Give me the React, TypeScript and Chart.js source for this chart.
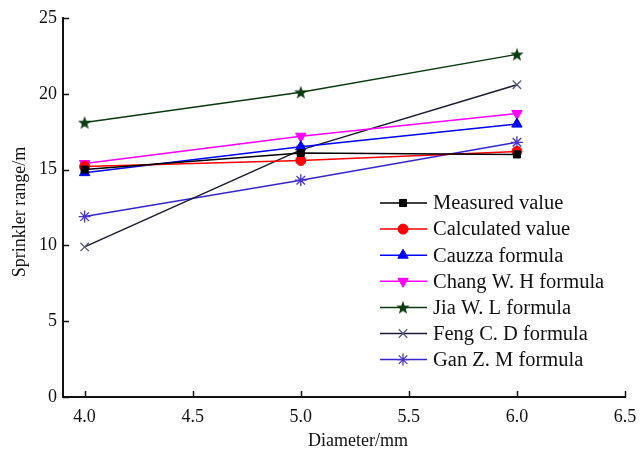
import React, { useEffect, useRef } from "react";
import { Chart, registerables } from "chart.js";
import { drawPoint } from "chart.js/helpers";

Chart.register(...registerables);

const diameters = [4.0, 5.0, 6.0];
const measured = [15.0, 16.1, 16.0];
const calculated = [15.2, 15.6, 16.2];
const cauzza = [14.8, 16.5, 18.0];
const changWH = [15.4, 17.2, 18.7];
const jiaWL = [18.1, 20.1, 22.6];
const fengCD = [9.9, 16.3, 20.6];
const ganZM = [11.9, 14.3, 16.8];

const seriesNames = [
  "Measured value",
  "Calculated value",
  "Cauzza formula",
  "Chang W. H formula",
  "Jia W. L formula",
  "Feng C. D formula",
  "Gan Z. M formula",
];
const xTickValues = [4.0, 4.5, 5.0, 5.5, 6.0, 6.5];
const yTickValues = [0, 5, 10, 15, 20, 25];
const xTitle = "Diameter/mm";
const yTitle = "Sprinkler range/m";

const SERIF = '"Liberation Serif", "Times New Roman", serif';

function makeStar(color: string): HTMLCanvasElement {
  const c = document.createElement("canvas");
  c.width = 14;
  c.height = 14;
  const g = c.getContext("2d")!;
  g.fillStyle = color;
  g.beginPath();
  for (let i = 0; i < 10; i++) {
    const r = i % 2 === 0 ? 7 : 2.9;
    const a = -Math.PI / 2 + (i * Math.PI) / 5;
    const px = 7 + r * Math.cos(a);
    const py = 7.5 + r * Math.sin(a);
    if (i === 0) g.moveTo(px, py);
    else g.lineTo(px, py);
  }
  g.closePath();
  g.fill();
  return c;
}

export default function App() {
  const ref = useRef<HTMLCanvasElement | null>(null);

  useEffect(() => {
    if (!ref.current) return;
    const star = makeStar("#0c3a10");
    const pts = (arr: number[]) => arr.map((v, i) => ({ x: diameters[i], y: v }));

    const styles = [
      { line: "#000000", point: "#000000", style: "rect", rot: 0, r: 5, fill: true },
      { line: "#ff0000", point: "#ff0000", style: "circle", rot: 0, r: 5, fill: true },
      { line: "#0000ff", point: "#0000ff", style: "triangle", rot: 0, r: 6, fill: true },
      { line: "#ff00ff", point: "#ff00ff", style: "triangle", rot: 180, r: 6, fill: true },
      { line: "#0c3a10", point: "#0c3a10", style: star as any, rot: 0, r: 7, fill: true },
      { line: "#1a1a33", point: "#5a5a7e", style: "crossRot", rot: 0, r: 6, fill: false },
      { line: "#3526d4", point: "#4a33cc", style: "star", rot: 0, r: 6, fill: false },
    ];
    const values = [measured, calculated, cauzza, changWH, jiaWL, fengCD, ganZM];

    const datasets = values.map((v, i) => ({
      label: seriesNames[i],
      data: pts(v),
      borderColor: styles[i].line,
      backgroundColor: styles[i].point,
      borderWidth: 1.5,
      pointStyle: styles[i].style,
      pointRotation: styles[i].rot,
      pointRadius: styles[i].r,
      pointBorderColor: styles[i].point,
      pointBackgroundColor: styles[i].point,
      pointBorderWidth: styles[i].fill ? 1 : 1.3,
      tension: 0,
    }));

    const decorPlugin = {
      id: "decor",
      afterDraw(chart: any) {
        const ctx = chart.ctx;
        const xs = chart.scales.x;
        const ys = chart.scales.y;
        const area = chart.chartArea;
        ctx.save();
        ctx.strokeStyle = "#111";
        ctx.lineWidth = 1.5;
        xTickValues.forEach((v) => {
          const px = Math.round(xs.getPixelForValue(v)) + 0.5;
          ctx.beginPath();
          ctx.moveTo(px, area.bottom);
          ctx.lineTo(px, area.bottom - 6);
          ctx.stroke();
        });
        yTickValues.forEach((v) => {
          const py = Math.round(ys.getPixelForValue(v)) + 0.5;
          ctx.beginPath();
          ctx.moveTo(area.left, py);
          ctx.lineTo(area.left + 6, py);
          ctx.stroke();
        });
        ctx.fillStyle = "#111";
        ctx.font = `18px ${SERIF}`;
        ctx.textAlign = "center";
        ctx.textBaseline = "middle";
        ctx.fillText(xTitle, 358, 441);
        ctx.save();
        ctx.translate(20, 212);
        ctx.rotate(-Math.PI / 2);
        ctx.fillText(yTitle, 0, 0);
        ctx.restore();
        const x0 = 380;
        const x1 = 427;
        const xm = 403;
        const yStart = 203;
        const step = 26.1;
        chart.data.datasets.forEach((ds: any, i: number) => {
          const y = yStart + i * step;
          ctx.strokeStyle = ds.borderColor;
          ctx.lineWidth = 1.5;
          ctx.beginPath();
          ctx.moveTo(x0, y);
          ctx.lineTo(x1, y);
          ctx.stroke();
          ctx.fillStyle = ds.pointBackgroundColor;
          ctx.strokeStyle = ds.pointBorderColor;
          ctx.lineWidth = ds.pointBorderWidth;
          drawPoint(
            ctx,
            {
              pointStyle: ds.pointStyle,
              rotation: ds.pointRotation,
              radius: ds.pointRadius,
              borderWidth: ds.pointBorderWidth,
            } as any,
            xm,
            y
          );
          ctx.fillStyle = "#111";
          ctx.font = `20.5px ${SERIF}`;
          ctx.textAlign = "left";
          ctx.textBaseline = "middle";
          ctx.fillText(ds.label, 433, y + 1);
        });
        ctx.restore();
      },
    };

    const chart = new Chart(ref.current, {
      type: "line",
      data: { datasets: datasets as any },
      plugins: [decorPlugin],
      options: {
        animation: false,
        responsive: true,
        maintainAspectRatio: false,
        layout: { padding: { top: 18, right: 15, left: 0, bottom: 0 } },
        plugins: { legend: { display: false }, tooltip: { enabled: false } },
        scales: {
          x: {
            type: "linear",
            min: 3.9,
            max: 6.5,
            afterFit: (s: any) => {
              s.height = 53;
              s.paddingRight = 0;
              s.paddingLeft = 0;
            },
            afterBuildTicks: (s: any) => {
              s.ticks = xTickValues.map((v) => ({ value: v }));
            },
            grid: { display: false, drawTicks: false },
            border: { display: true, color: "#111", width: 2 },
            ticks: {
              padding: 9,
              color: "#111",
              font: { family: SERIF, size: 18 },
              callback: (v: any) => Number(v).toFixed(1),
              maxRotation: 0,
              autoSkip: false,
            },
          },
          y: {
            type: "linear",
            min: 0,
            max: 25,
            afterFit: (s: any) => {
              s.width = 63;
              s.paddingTop = 0;
              s.paddingBottom = 0;
            },
            afterBuildTicks: (s: any) => {
              s.ticks = yTickValues.map((v) => ({ value: v }));
            },
            grid: { display: false, drawTicks: false },
            border: { display: true, color: "#111", width: 2 },
            ticks: {
              padding: 6,
              color: "#111",
              font: { family: SERIF, size: 18 },
              callback: (v: any) => String(v),
            },
          },
        },
      },
    });
    return () => chart.destroy();
  }, []);

  return (
    <div style={{ position: "fixed", left: 0, top: 0, width: 640, height: 450, background: "#fff" }}>
      <canvas ref={ref} />
    </div>
  );
}
